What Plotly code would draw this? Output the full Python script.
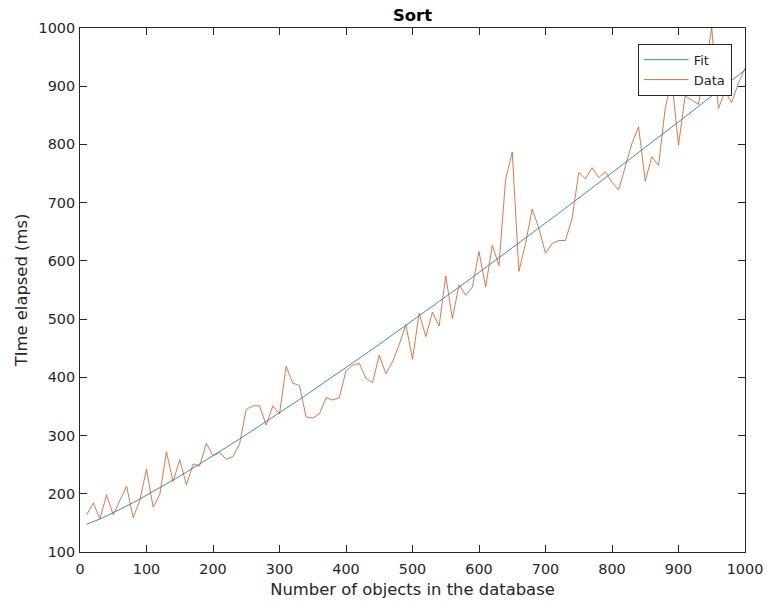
import numpy as np
import plotly.graph_objects as go

# Number of objects sorted in each run
n_objects = list(range(10, 1001, 10))

# Measured sort time for each run (ms)
time_ms = [
    164, 184, 157, 198, 164, 188, 213, 159, 189, 242,
    177, 199, 272, 221, 259, 215, 251, 248, 287, 265,
    271, 259, 264, 286, 345, 351, 351, 318, 351, 337,
    419, 390, 386, 332, 330, 337, 365, 361, 365, 411,
    421, 424, 398, 391, 438, 406, 427, 456, 491, 431,
    510, 470, 512, 488, 574, 501, 559, 541, 555, 616,
    555, 627, 592, 740, 787, 582, 630, 689, 656, 613,
    630, 635, 635, 673, 752, 741, 760, 743, 753, 735,
    722, 762, 802, 830, 737, 779, 764, 862, 910, 799,
    883, 876, 869, 930, 1000, 862, 891, 872, 905, 931,
]

x_ticks = list(range(0, 1001, 100))
y_ticks = list(range(100, 1001, 100))

# Least-squares fit of t = a + b * n*ln(n)
n_arr = np.array(n_objects, dtype=float)
t_arr = np.array(time_ms, dtype=float)
basis = np.column_stack([np.ones_like(n_arr), n_arr * np.log(n_arr)])
coef, *_ = np.linalg.lstsq(basis, t_arr, rcond=None)
fit_vals = basis @ coef

BLUE = "#0072BD"
ORANGE = "#D95319"
INK = "#262626"
FONT = "DejaVu Sans"

fig = go.Figure()
fig.add_trace(go.Scatter(x=n_objects, y=fit_vals, mode="lines", name="Fit",
                         line=dict(color=BLUE, width=0.8)))
fig.add_trace(go.Scatter(x=n_objects, y=time_ms, mode="lines", name="Data",
                         line=dict(color=ORANGE, width=0.8)))

axis_common = dict(
    showline=True, linecolor=INK, linewidth=1, mirror="ticks",
    ticks="inside", ticklen=7, tickwidth=1, tickcolor=INK,
    showgrid=False, zeroline=False, automargin=False,
    tickfont=dict(family=FONT, size=14.4, color=INK),
)

fig.update_layout(
    width=767, height=604,
    margin=dict(l=80, r=22, t=28, b=52),
    paper_bgcolor="white", plot_bgcolor="white",
    font=dict(family=FONT, color=INK),
    title=dict(text="<b>Sort</b>", x=0.5378, xanchor="center",
               y=1 - 15.5 / 604, yanchor="middle", yref="container",
               font=dict(family=FONT, size=16.4, color="black")),
    xaxis=dict(range=[0, 1000], tickvals=x_ticks, ticklabelstandoff=4,
               title=dict(text="Number of objects in the database",
                          font=dict(family=FONT, size=16.4, color=INK), standoff=7),
               **axis_common),
    yaxis=dict(range=[100, 1000], tickvals=y_ticks, ticklabelstandoff=1,
               title=dict(text="TIme elapsed (ms)",
                          font=dict(family=FONT, size=16.4, color=INK), standoff=6),
               **axis_common),
    legend=dict(x=0.98, xanchor="right", y=0.97, yanchor="top",
                bgcolor="white", bordercolor=INK, borderwidth=1,
                font=dict(family=FONT, size=13, color=INK),
                tracegroupgap=0, itemwidth=45),
    showlegend=True,
)

fig.write_html("out.html")
